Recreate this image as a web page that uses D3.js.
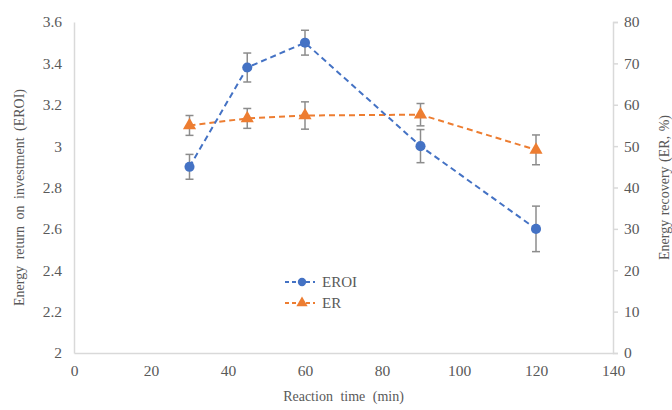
<!DOCTYPE html>
<html lang="en">
<head>
<meta charset="UTF-8">
<title>EROI and ER vs reaction time</title>
<script src="https://cdn.jsdelivr.net/npm/d3@7"></script>
<style>
  body { margin: 0; background: #fff; }
</style>
</head>
<body>
<div id="chart"></div>
<script>
// data
const times = [30, 45, 60, 90, 120];
const eroi = [2.9, 3.38, 3.5, 3.0, 2.6];
const eroiErr = [0.06, 0.07, 0.06, 0.08, 0.11];
const er = [55.0, 56.7, 57.4, 57.6, 49.1];
const erErr = [2.4, 2.4, 3.3, 2.7, 3.6];
const xTicks = [0, 20, 40, 60, 80, 100, 120, 140];
const leftTicks = [2, 2.2, 2.4, 2.6, 2.8, 3, 3.2, 3.4, 3.6];
const rightTicks = [0, 10, 20, 30, 40, 50, 60, 70, 80];

const FONT = "'Liberation Serif', 'Times New Roman', serif";
const W = 672, H = 410;
const margin = {top: 22, right: 59, bottom: 57, left: 74};
const width = W - margin.left - margin.right,
      height = H - margin.top - margin.bottom;

const svg = d3.select("#chart").append("svg")
    .attr("width", W).attr("height", H)
    .style("font-family", FONT);
const g = svg.append("g")
    .attr("transform", `translate(${margin.left},${margin.top})`);

const x = d3.scaleLinear().domain([0, 140]).range([0, width]);
const yL = d3.scaleLinear().domain([2, 3.6]).range([height, 0]);
const yR = d3.scaleLinear().domain([0, 80]).range([height, 0]);

const axisColor = "#d9d9d9";

// x axis
const gx = g.append("g").attr("transform", `translate(0,${height})`)
    .call(d3.axisBottom(x).tickValues(xTicks).tickSize(0).tickPadding(12).tickFormat(d3.format("d")));
// left axis
const gl = g.append("g")
    .call(d3.axisLeft(yL).tickValues(leftTicks).tickSize(0).tickPadding(12).tickFormat(d => String(d)));
// right axis
const gr = g.append("g").attr("transform", `translate(${width},0)`)
    .call(d3.axisRight(yR).tickValues(rightTicks).tickSize(5).tickPadding(6).tickFormat(d3.format("d")));

[gx, gl, gr].forEach(a => {
  a.attr("font-family", null).attr("font-size", null);
  a.select(".domain").attr("stroke", axisColor).attr("stroke-width", 1.5);
  a.selectAll(".tick line").attr("stroke", axisColor).attr("stroke-width", 1.5);
  a.selectAll(".tick text").attr("font-size", 15.5)
    .style("font-family", FONT).attr("fill", "#595959");
});

function title(sel) {
  return sel.style("font-family", FONT).attr("fill", "#595959").attr("font-size", 14);
}

// axis titles
title(g.append("text"))
  .attr("x", width / 2).attr("y", height + 48)
  .attr("text-anchor", "middle")
  .attr("word-spacing", 4)
  .text("Reaction time (min)");
title(g.append("text"))
  .attr("transform", `translate(${19 - margin.left},${height / 2 + 10}) rotate(-90)`)
  .attr("text-anchor", "middle").attr("dominant-baseline", "central")
  .attr("word-spacing", 3)
  .text("Energy return on investment  (EROI)");
title(g.append("text"))
  .attr("transform", `translate(${width + 51},${height / 2}) rotate(-90)`)
  .attr("text-anchor", "middle").attr("dominant-baseline", "central")
  .attr("word-spacing", 1)
  .text("Energy recovery (ER, %)");

const blue = "#4472c4", orange = "#ed7d31", errColor = "#8c8c8c";

function drawSeries(vals, errs, y, color, shape) {
  const pts = times.map((t, i) => ({t, v: vals[i], e: errs[i]}));
  g.append("path").datum(pts)
    .attr("fill", "none").attr("stroke", color).attr("stroke-width", 2)
    .attr("stroke-dasharray", "6,4")
    .attr("d", d3.line().x(d => x(d.t)).y(d => y(d.v)));
  const eb = g.append("g").selectAll("g").data(pts).join("g")
    .attr("stroke", errColor).attr("stroke-width", 1.5);
  eb.append("line")
    .attr("x1", d => x(d.t)).attr("x2", d => x(d.t))
    .attr("y1", d => y(d.v - d.e)).attr("y2", d => y(d.v + d.e));
  eb.append("line")
    .attr("x1", d => x(d.t) - 4).attr("x2", d => x(d.t) + 4)
    .attr("y1", d => y(d.v - d.e)).attr("y2", d => y(d.v - d.e));
  eb.append("line")
    .attr("x1", d => x(d.t) - 4).attr("x2", d => x(d.t) + 4)
    .attr("y1", d => y(d.v + d.e)).attr("y2", d => y(d.v + d.e));
  g.append("g").selectAll("path").data(pts).join("path")
    .attr("transform", d => `translate(${x(d.t)},${y(d.v)})`)
    .attr("fill", color)
    .attr("d", d3.symbol().type(shape).size(shape === d3.symbolCircle ? 80 : 75));
}

drawSeries(er, erErr, yR, orange, d3.symbolTriangle);
drawSeries(eroi, eroiErr, yL, blue, d3.symbolCircle);

// legend
const legend = svg.append("g").attr("transform", "translate(285,282)");
[["EROI", blue, d3.symbolCircle], ["ER", orange, d3.symbolTriangle]].forEach((s, i) => {
  const row = legend.append("g").attr("transform", `translate(0,${i * 21})`);
  row.append("line").attr("x1", 0).attr("x2", 30).attr("y1", 0).attr("y2", 0)
    .attr("stroke", s[1]).attr("stroke-width", 2).attr("stroke-dasharray", "4,3");
  row.append("path").attr("transform", "translate(17,0)").attr("fill", s[1])
    .attr("d", d3.symbol().type(s[2]).size(55));
  title(row.append("text")).attr("x", 37).attr("y", 0).attr("dominant-baseline", "central")
    .attr("font-size", 15).text(s[0]);
});
</script>
</body>
</html>
